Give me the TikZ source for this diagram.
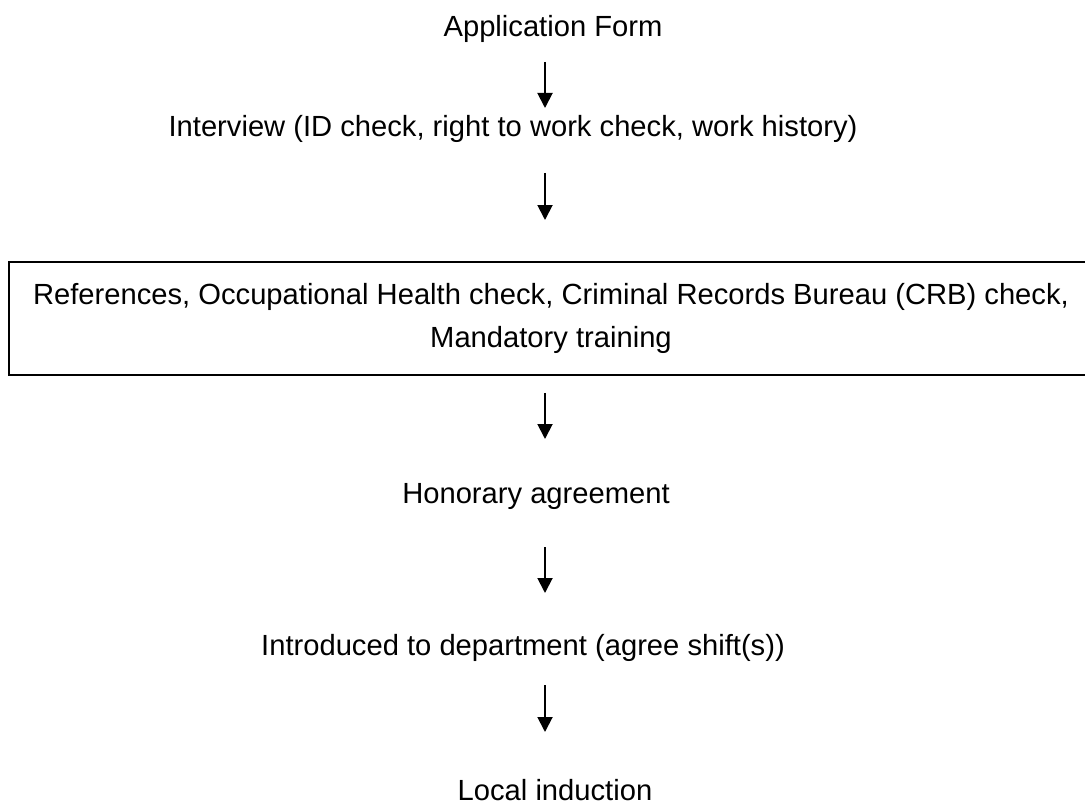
\documentclass[tikz,border=0pt]{standalone}
\usepackage{fontspec}
\setmainfont{Liberation Sans}
\usetikzlibrary{arrows.meta}
\tikzset{
	stage/.style={anchor=base, inner sep=0pt, font=\fontsize{16.6pt}{24.5pt}\selectfont},
	checks/.style={draw, line width=1.1pt, align=center, minimum width=21.68cm, minimum height=2.26cm, inner sep=0pt, font=\fontsize{16.6pt}{24.5pt}\selectfont},
	flow/.style={line width=1.1pt, -{Triangle[length=0.3cm,width=0.3cm]}}
}
\begin{document}
\begin{tikzpicture}[x=0.02cm, y=-0.02cm]
		\useasboundingbox (0,0) rectangle (1085,807);
		\clip (0,0) rectangle (1085,807);
		\node[stage] (appform) at (553,37) {Application Form};
		\node[stage] (interview) at (513,137) {Interview (ID check, right to work check, work history)};
		\node[checks] (checks) at (551,318.5) {References, Occupational Health check, Criminal Records Bureau (CRB) check,\\ Mandatory training};
		\node[stage] (honorary) at (536,503) {Honorary agreement};
		\node[stage] (department) at (523,655) {Introduced to department (agree shift(s))};
		\node[stage] (induction) at (555,800) {Local induction};
		% arrows between the stages
		\foreach \i/\ya/\yb in {1/62/108, 2/173/220, 3/393/439, 4/547/593, 5/685/732} {
			\coordinate (top\i) at (545,\ya);
			\coordinate (tip\i) at (545,\yb);
			\draw[flow] (top\i) -- (tip\i);
		}
	\end{tikzpicture}
\end{document}
